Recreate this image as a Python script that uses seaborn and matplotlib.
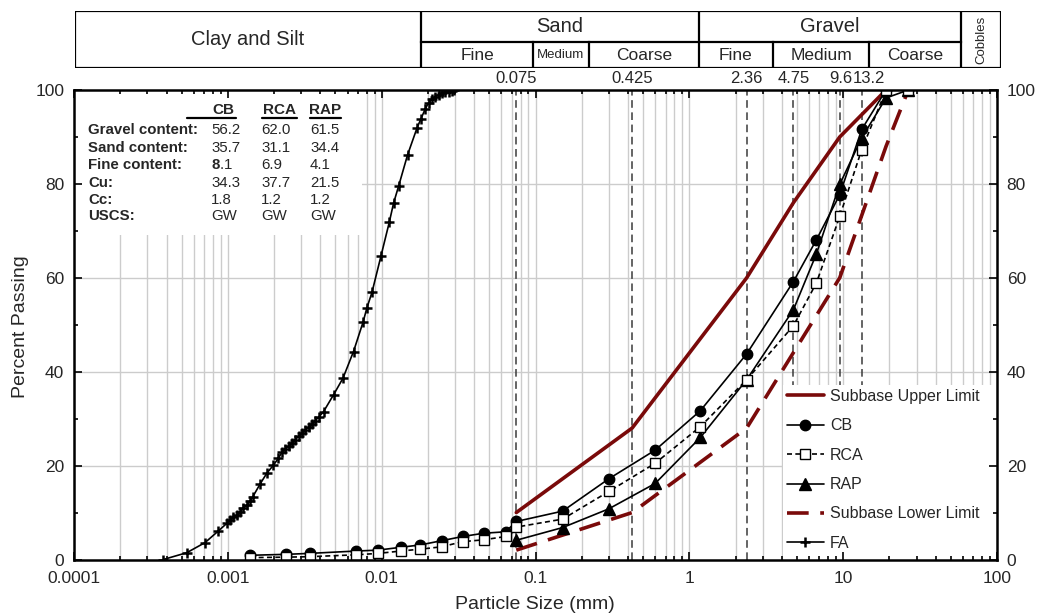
import numpy as np
import pandas as pd
import matplotlib
matplotlib.use("Agg")
import matplotlib.pyplot as plt
import matplotlib.ticker as mticker
from matplotlib.lines import Line2D
from matplotlib.patches import Rectangle
import seaborn as sns

# ---- sieve analysis data (mm, % passing) ----
sieve_mm = [0.075, 0.15, 0.3, 0.6, 1.18, 2.36, 4.75, 6.7, 9.5, 13.2, 19.0, 26.5]
hydro_mm = [0.0014, 0.0024, 0.0034, 0.0068, 0.0095, 0.0133, 0.0178, 0.0245,
            0.0336, 0.0462, 0.064]

cb_hydro = [0.9, 1.1, 1.3, 1.8, 2.0, 2.6, 3.1, 4.0, 4.9, 5.6, 5.9]
cb_sieve = [8.1, 10.3, 17.2, 23.3, 31.7, 43.8, 59.2, 68.1, 77.7, 91.6, 100, 100]
rca_hydro = [0.4, 0.5, 0.6, 1.0, 1.3, 1.8, 2.2, 2.7, 3.8, 4.2, 4.9]
rca_sieve = [6.9, 8.6, 14.5, 20.5, 28.3, 38.3, 49.8, 58.9, 73.1, 87.3, 100, 100]
rap_sieve = [4.1, 6.8, 10.8, 16.2, 26.0, 38.3, 53.2, 65.1, 79.9, 89.8, 98.3, 100]

upper_mm = [0.075, 0.425, 2.36, 4.75, 9.5, 19.0]
upper_pct = [10, 28, 60, 76, 90, 100]
lower_mm = [0.075, 0.425, 2.36, 9.5, 19.0, 26.5]
lower_pct = [2, 10, 28, 60, 88, 100]

fa_mm = [0.000381, 0.000541, 0.000711, 0.000869, 0.000985, 0.001035, 0.001088,
         0.001145, 0.001202, 0.001264, 0.00133, 0.001397, 0.001455, 0.001622,
         0.001794, 0.00198, 0.002134, 0.002245, 0.00236, 0.00248, 0.00261,
         0.00274, 0.00288, 0.00303, 0.00318, 0.00335, 0.00352, 0.0037, 0.00389,
         0.00419, 0.00487, 0.0056, 0.00656, 0.00756, 0.00802, 0.00865, 0.00989,
         0.0112, 0.01195, 0.01288, 0.01474, 0.01697, 0.01802, 0.01922, 0.02019,
         0.02125, 0.02232, 0.02346, 0.02469, 0.02593, 0.02725, 0.02868, 0.02969]
fa_pct = [0.0, 1.45, 3.6, 6.1, 7.7, 8.4, 9.0, 9.5, 10.2, 10.9, 11.6, 12.5, 13.4,
          16.1, 18.4, 20.1, 21.6, 22.8, 23.5, 24.2, 24.9, 25.5, 26.2, 26.9, 27.6,
          28.2, 28.9, 29.6, 30.3, 31.5, 35.1, 38.6, 44.3, 50.5, 53.6, 56.9, 64.6,
          71.8, 75.9, 79.5, 86.2, 91.9, 93.9, 96.0, 97.3, 98.0, 98.6, 99.0, 99.3,
          99.5, 99.6, 99.7, 100.0]

limit_sizes = [0.075, 0.425, 2.36, 4.75, 9.6, 13.2]
limit_labels = ["0.075", "0.425", "2.36", "4.75", "9.6", "13.2"]

# summary table
table_cols = ["CB", "RCA", "RAP"]
table_rows = ["Gravel content:", "Sand content:", "Fine content:", "Cu:", "Cc:", "USCS:"]
cb_props = ["56.2", "35.7", r"$\mathbf{8}$.1", "34.3", "1.8", "GW"]
rca_props = ["62.0", "31.1", "6.9", "37.7", "1.2", "GW"]
rap_props = ["61.5", "34.4", "4.1", "21.5", "1.2", "GW"]

legend_order = ["Subbase Upper Limit", "CB", "RCA", "RAP", "Subbase Lower Limit", "FA"]

sns.set_style("ticks")
plt.rcParams["font.family"] = ["Liberation Sans", "DejaVu Sans"]
plt.rcParams["mathtext.fontset"] = "custom"
plt.rcParams["mathtext.rm"] = "Liberation Sans"
plt.rcParams["mathtext.bf"] = "Liberation Sans:bold"

W, H = 1040, 615
RED = "#7a0a0a"
GRID = "#cccccc"
AX_L, AX_R, AX_B, AX_T = 74, 997, 559.5, 90


def fx(px):
    return px / W


def fy(py):
    return 1 - py / H


def axx(px):
    return (px - AX_L) / (AX_R - AX_L)


def axy(py):
    return (AX_B - py) / (AX_B - AX_T)


fig = plt.figure(figsize=(W / 100, H / 100), dpi=100)
ax = fig.add_axes([fx(AX_L), fy(AX_B), fx(AX_R) - fx(AX_L), fy(AX_T) - fy(AX_B)])

cb = pd.DataFrame({"d": hydro_mm + sieve_mm, "p": cb_hydro + cb_sieve})
rca = pd.DataFrame({"d": hydro_mm + sieve_mm, "p": rca_hydro + rca_sieve})
rap = pd.DataFrame({"d": sieve_mm, "p": rap_sieve})
up = pd.DataFrame({"d": upper_mm, "p": upper_pct})
lo = pd.DataFrame({"d": lower_mm, "p": lower_pct})
fa = pd.DataFrame({"d": fa_mm, "p": fa_pct})

common = dict(x="d", y="p", ax=ax, estimator=None, sort=False)
sns.lineplot(data=up, color=RED, lw=2.6, label="Subbase Upper Limit", zorder=4, **common)
sns.lineplot(data=lo, color=RED, lw=2.6, linestyle=(0, (6, 3.2)),
             label="Subbase Lower Limit", zorder=4, **common)
sns.lineplot(data=fa, color="black", lw=1.2, marker="+", markersize=7,
             markeredgecolor="black", markeredgewidth=1.8, label="FA", zorder=5, **common)
sns.lineplot(data=rap, color="black", lw=1.2, marker="^", markersize=8,
             markeredgecolor="black", markeredgewidth=1, label="RAP", zorder=5, **common)
sns.lineplot(data=rca, color="black", lw=1.2, linestyle=(0, (3, 2)), marker="s",
             markersize=6.5, markerfacecolor="white", markeredgecolor="black",
             markeredgewidth=1, label="RCA", zorder=6, **common)
sns.lineplot(data=cb, color="black", lw=1.2, marker="o", markersize=7.5,
             markeredgecolor="black", markeredgewidth=1, label="CB", zorder=5, **common)

ax.set_xscale("log")
ax.set_xlim(1e-4, 100)
ax.set_ylim(0, 100)
ax.xaxis.set_major_locator(mticker.LogLocator(base=10, numticks=10))
ax.xaxis.set_minor_locator(mticker.LogLocator(base=10, subs=np.arange(2, 10), numticks=20))
ax.xaxis.set_major_formatter(mticker.FuncFormatter(lambda v, _: f"{v:g}"))
ax.xaxis.set_minor_formatter(mticker.NullFormatter())
ax.yaxis.set_major_locator(mticker.MultipleLocator(20))
ax.yaxis.set_minor_locator(mticker.MultipleLocator(10))

# grid drawn as plain lines so the white panels can hide it but not the ticks
ax.grid(False)
ax.set_axisbelow(False)
for dec in [1e-4, 1e-3, 1e-2, 1e-1, 1, 10]:
    for k in range(1, 10):
        ax.axvline(dec * k, color=GRID, lw=1, zorder=0.5)
for yv in [20, 40, 60, 80]:
    ax.axhline(yv, color=GRID, lw=1, zorder=0.5)

ax.tick_params(which="both", direction="in", top=True, right=True,
               labelright=True, labelsize=12.5, width=1.2, color="black")
ax.tick_params(which="major", length=6)
ax.tick_params(which="minor", length=3)
ax.tick_params(axis="x", which="major", pad=8)
ax.tick_params(axis="y", which="major", pad=7)
for s in ax.spines.values():
    s.set_linewidth(1.8)
    s.set_color("black")
    s.set_zorder(8)

ax.set_xlabel("Particle Size (mm)", fontsize=14)
ax.set_ylabel("Percent Passing", fontsize=14)
ax.xaxis.set_label_coords(axx(535), axy(596))
ax.yaxis.set_label_coords(axx(29), axy(327))

# sieve limit lines with labels above the plot
for v, lab in zip(limit_sizes, limit_labels):
    ax.axvline(v, color="#3a3a3a", lw=1.1, ls=(0, (5, 3)), zorder=1)
    shift = 5 if lab == "13.2" else 0
    ax.annotate(lab, xy=(v, 1.0), xycoords=("data", "axes fraction"),
                xytext=(shift, 3), textcoords="offset points",
                ha="center", va="bottom", fontsize=12)

# white panels behind the table and legend
ax.add_patch(Rectangle((0, axy(235)), axx(362), 1,
                       transform=ax.transAxes, facecolor="white",
                       edgecolor="none", zorder=1.5))
ax.add_patch(Rectangle((axx(783), 0), 1, axy(385),
                       transform=ax.transAxes, facecolor="white",
                       edgecolor="none", zorder=1.5))

handles, labels = ax.get_legend_handles_labels()
hmap = dict(zip(labels, handles))
leg = ax.legend([hmap[k] for k in legend_order], legend_order,
                loc="upper left", bbox_to_anchor=(axx(783), axy(385)),
                borderaxespad=0, frameon=False, fontsize=11.5,
                handlelength=2.3, handletextpad=0.4, labelspacing=0.9,
                borderpad=0.25)
leg.set_zorder(7)

# summary table
col_x = [211, 261, 310]
head_c = [223, 279, 325]
underl = [(187, 236), (262, 297), (310, 341)]
row_y = [128.5, 146, 164, 181.5, 198.5, 215]
for cname, cx, (u0, u1) in zip(table_cols, head_c, underl):
    fig.text(fx(cx), fy(110), cname, ha="center", va="center",
             fontsize=11, fontweight="bold")
    fig.add_artist(Line2D([fx(u0), fx(u1)], [fy(118), fy(118)],
                          color="black", lw=1.6))
for i, rname in enumerate(table_rows):
    fig.text(fx(88), fy(row_y[i]), rname, ha="left", va="center_baseline",
             fontsize=10.8, fontweight="bold")
    for cx, vals in zip(col_x, [cb_props, rca_props, rap_props]):
        fig.text(fx(cx), fy(row_y[i]), vals[i], ha="left", va="center_baseline",
                 fontsize=10.8)

# soil classification header
hdr = fig.add_axes([fx(75), fy(68), fx(1001) - fx(75), fy(11) - fy(68)])
hdr.set_xlim(75, 1001)
hdr.set_ylim(68, 11)
hdr.axis("off")
kw = dict(color="black", lw=1.6, solid_capstyle="projecting")
hdr.plot([75, 1001, 1001, 75, 75], [11, 11, 68, 68, 11], **kw)
hdr.plot([421, 961], [41.5, 41.5], **kw)
for xv in [421, 699, 961]:
    hdr.plot([xv, xv], [11, 68], **kw)
for xv in [533, 589, 773, 869]:
    hdr.plot([xv, xv], [41.5, 68], **kw)
hdr.text(248, 39.5, "Clay and Silt", ha="center", va="center", fontsize=14.5)
hdr.text(560, 26, "Sand", ha="center", va="center", fontsize=14.5)
hdr.text(830, 26, "Gravel", ha="center", va="center", fontsize=14.5)
hdr.text(477, 55, "Fine", ha="center", va="center", fontsize=12.5)
hdr.text(561, 55, "Medium", ha="center", va="center", fontsize=9.5)
hdr.text(644, 55, "Coarse", ha="center", va="center", fontsize=12.5)
hdr.text(736, 55, "Fine", ha="center", va="center", fontsize=12.5)
hdr.text(821, 55, "Medium", ha="center", va="center", fontsize=12.5)
hdr.text(915, 55, "Coarse", ha="center", va="center", fontsize=12.5)
hdr.text(981, 39.5, "Cobbles", ha="center", va="center", fontsize=9.5, rotation=90)

fig.savefig("out.png", dpi=100)
plt.close(fig)
